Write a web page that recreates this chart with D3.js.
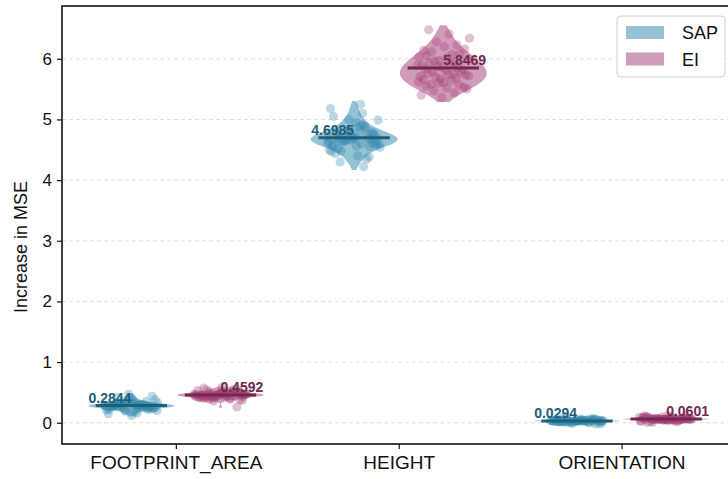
<!DOCTYPE html>
<html>
<head>
<meta charset="utf-8">
<script src="https://cdn.jsdelivr.net/npm/d3@7"></script>
<style>
  html, body { margin: 0; padding: 0; background: #fff; }
  svg { display: block; font-family: "Liberation Sans", Arial, sans-serif; }
</style>
</head>
<body>
<svg id="chart" width="728" height="479"></svg>
<script>
// ---------------- data ----------------
const categories = ["FOOTPRINT_AREA", "HEIGHT", "ORIENTATION"];
const seriesNames = ["SAP", "EI"];
const seriesColors = ["#2E86AB", "#A23B72"];
const yTicks = [0, 1, 2, 3, 4, 5, 6];

// mean values shown as labels / lines
const sapMeans = [0.2844, 4.6985, 0.0294];
const eiMeans  = [0.4592, 5.8469, 0.0601];

// per-run samples
const sapFootprint = [0.28,0.25,0.31,0.27,0.34,0.22,0.29,0.26,0.38,0.18,0.30,0.24,0.33,0.21,0.29,0.27,0.44,0.12,0.28,0.25,0.36,0.20,0.28,0.32,0.26,0.47,0.15,0.30,0.29,0.24,0.32,0.27,0.35,0.19,0.29,0.28,0.31,0.23,0.40,0.27,
  0.27,0.30,0.25,0.32,0.28,0.22,0.34,0.26,0.29,0.31,0.24,0.37,0.27,0.29,0.21,0.33,0.16,0.42,0.28,0.26];
const eiFootprint  = [0.46,0.43,0.49,0.45,0.51,0.41,0.47,0.44,0.54,0.38,0.48,0.42,0.50,0.40,0.47,0.45,0.57,0.26,0.46,0.43,0.52,0.39,0.46,0.49,0.44,0.55,0.36,0.47,0.46,0.42,0.50,0.45,0.53,0.40,0.47,0.46,0.48,0.41,0.51,0.45,
  0.45,0.48,0.43,0.50,0.46,0.42,0.52,0.44,0.47,0.49,0.41,0.55,0.45,0.47,0.39,0.51,0.37,0.58,0.46,0.44];
const sapHeight    = [4.70,4.55,4.82,4.63,4.91,4.48,4.75,4.68,5.05,4.35,4.72,4.60,4.88,4.52,4.79,4.66,5.18,4.22,4.74,4.58,4.95,4.44,4.69,4.81,4.62,5.25,4.30,4.77,4.71,4.57,4.86,4.65,4.99,4.40,4.73,4.67,4.84,4.50,5.10,4.64,
  4.62,4.70,4.58,4.76,4.66,4.54,4.80,4.68,4.61,4.73,4.47,4.90,4.64,4.69,4.56,4.78,4.38,5.00,4.71,4.60];
const eiHeight     = [5.36,5.40,5.44,5.47,5.50,
  5.52,5.55,5.57,5.60,5.62,5.64,5.58,5.53,5.61,
  5.66,5.68,5.70,5.72,5.74,5.76,5.78,5.67,5.71,5.75,5.79,5.73,
  5.81,5.83,5.85,5.87,5.89,5.91,5.93,5.82,5.86,5.90,5.94,
  5.96,5.99,6.02,6.05,6.08,5.97,6.03,6.07,
  6.12,6.16,6.20,6.14,6.23,
  6.28,6.34,6.41,6.48];
const sapOrientation = [0.03,0.02,0.04,0.025,0.05,0.01,0.035,0.028,0.06,-0.005,0.032,0.018,0.045,0.008,0.036,0.027,0.075,-0.02,0.031,0.022,0.052,0.005,0.03,0.04,0.024,0.068,-0.01,0.034,0.03,0.02,0.042,0.026,0.055,0.0,0.033,0.029,0.038,0.015,0.06,0.028,
  0.028,0.035,0.022,0.04,0.03,0.015,0.045,0.025,0.032,0.038,0.012,0.05,0.027,0.033,0.008,0.042,-0.015,0.065,0.03,0.024];
const eiOrientation  = [0.06,0.05,0.07,0.055,0.085,0.035,0.065,0.058,0.1,0.02,0.062,0.048,0.08,0.03,0.066,0.057,0.12,0.005,0.061,0.052,0.09,0.04,0.06,0.072,0.054,0.11,0.015,0.064,0.06,0.05,0.075,0.056,0.095,0.025,0.063,0.059,0.07,0.045,0.105,0.057,
  0.058,0.066,0.052,0.072,0.06,0.045,0.08,0.055,0.063,0.07,0.04,0.09,0.057,0.064,0.03,0.078,0.01,0.115,0.061,0.054];

const samples = [
  [sapFootprint, sapHeight, sapOrientation],
  [eiFootprint, eiHeight, eiOrientation]
];
const means = [sapMeans, eiMeans];

// ---------------- layout ----------------
const W = 728, H = 479;
const plot = { left: 62, top: 6, bottom: 444 };
const svg = d3.select("#chart");

const x = d3.scaleLinear().domain([-0.511, 2.5]).range([plot.left, 733]);
const y = d3.scaleLinear().domain([-0.35, 6.87]).range([plot.bottom, plot.top]);
const hueOffset = [-0.2, 0.2];
const halfViolin = 0.195;
const jitter = 0.12;
const meanHalf = 0.16;

// grid
svg.append("g").selectAll("line").data(yTicks).join("line")
  .attr("x1", plot.left).attr("x2", W)
  .attr("y1", d => y(d)).attr("y2", d => y(d))
  .attr("stroke", "#dedede").attr("stroke-width", 1)
  .attr("stroke-dasharray", "4,3");

// KDE helper
function kde(values) {
  const n = values.length;
  const sd = d3.deviation(values);
  const bw = sd * Math.pow(n, -0.2);
  const lo = d3.min(values) - 0.6 * bw, hi = d3.max(values) + 0.6 * bw;
  const steps = 80;
  const pts = d3.range(steps + 1).map(i => {
    const v = lo + (hi - lo) * i / steps;
    const dens = d3.sum(values, s => Math.exp(-0.5 * ((v - s) / bw) ** 2));
    return [v, dens];
  });
  const mx = d3.max(pts, p => p[1]);
  return pts.map(p => [p[0], p[1] / mx]);
}

const gViol = svg.append("g");
const gPts = svg.append("g");
const gMean = svg.append("g");
const gLab = svg.append("g");

seriesNames.forEach((name, s) => {
  const col = seriesColors[s];
  const base = d3.rgb(col);
  const darkCol = d3.rgb(base.r * 0.7, base.g * 0.7, base.b * 0.7).formatHex();
  categories.forEach((cat, c) => {
    const cx = c + hueOffset[s];
    const vals = samples[s][c];
    const dens = kde(vals);
    const area = d3.area()
      .curve(d3.curveBasis)
      .y(d => y(d[0]))
      .x0(d => x(cx - d[1] * halfViolin))
      .x1(d => x(cx + d[1] * halfViolin));
    gViol.append("path").datum(dens)
      .attr("d", area)
      .attr("fill", col).attr("fill-opacity", 0.5)
      .attr("stroke", "none");

    gPts.selectAll(null).data(vals).join("circle")
      .attr("cx", (d, i) => x(cx + (((i * 0.6180339887 + s * 0.3 + c * 0.17) % 1) - 0.5) * 2 * jitter))
      .attr("cy", d => y(d))
      .attr("r", 4.6)
      .attr("fill", col).attr("fill-opacity", 0.32);

    const m = means[s][c];
    gMean.append("line")
      .attr("x1", x(cx - meanHalf)).attr("x2", x(cx + meanHalf))
      .attr("y1", y(m)).attr("y2", y(m))
      .attr("stroke", darkCol).attr("stroke-width", 3);

    gLab.append("text")
      .attr("x", x(cx)).attr("y", y(m) - 3)
      .attr("text-anchor", s === 0 ? "end" : "start")
      .attr("font-size", 14).attr("font-weight", "bold")
      .attr("fill", darkCol)
      .text(m.toFixed(4));
  });
});

// axes
const yAxis = d3.axisLeft(y).tickValues(yTicks).tickSize(5).tickPadding(5).tickFormat(d3.format("d"));
const gy = svg.append("g").attr("transform", `translate(${plot.left},0)`).call(yAxis);
gy.select(".domain").remove();
gy.selectAll("text").attr("font-size", 17).attr("font-family", "Liberation Sans, Arial, sans-serif").attr("fill", "#111");
gy.selectAll("line").attr("stroke", "#111").attr("stroke-width", 1.2);

const xAxis = d3.axisBottom(x).tickValues([0, 1, 2]).tickSize(5).tickPadding(7).tickFormat(i => categories[i]);
const gx = svg.append("g").attr("transform", `translate(0,${plot.bottom})`).call(xAxis);
gx.select(".domain").remove();
gx.selectAll("text").attr("font-size", 19).attr("font-family", "Liberation Sans, Arial, sans-serif").attr("fill", "#111");
gx.selectAll("line").attr("stroke", "#111").attr("stroke-width", 1.2);

// spines (left, bottom, top; right lies beyond the canvas)
svg.append("rect")
  .attr("x", plot.left).attr("y", plot.top)
  .attr("width", 733 - plot.left).attr("height", plot.bottom - plot.top)
  .attr("fill", "none").attr("stroke", "#111").attr("stroke-width", 1.6);

// y label
svg.append("text")
  .attr("transform", `translate(21,247) rotate(-90)`)
  .attr("text-anchor", "middle").attr("dominant-baseline", "central")
  .attr("font-size", 18).attr("fill", "#111")
  .text("Increase in MSE");

// legend
const lg = svg.append("g").attr("transform", "translate(617,16)");
lg.append("rect").attr("width", 108).attr("height", 61).attr("rx", 4)
  .attr("fill", "#fff").attr("fill-opacity", 0.85)
  .attr("stroke", "#d0d0d0").attr("stroke-width", 1);
seriesNames.forEach((name, s) => {
  const row = lg.append("g").attr("transform", `translate(9,${10 + s * 26.5})`);
  row.append("rect").attr("width", 38).attr("height", 13)
    .attr("fill", seriesColors[s]).attr("fill-opacity", 0.5);
  row.append("text").attr("x", 56).attr("y", 7)
    .attr("dominant-baseline", "central")
    .attr("font-size", 18).attr("fill", "#111").text(name);
});
</script>
</body>
</html>
